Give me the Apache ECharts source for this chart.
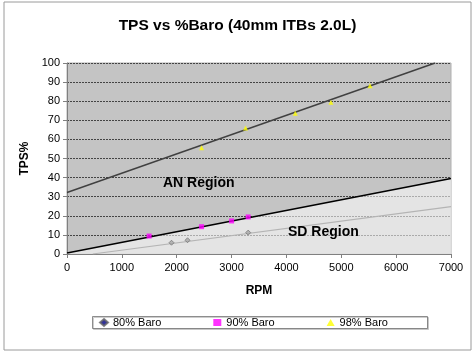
<!DOCTYPE html>
<html><head><meta charset="utf-8">
<script src="https://cdn.jsdelivr.net/npm/echarts@6/dist/echarts.min.js"></script>
<style>html,body{margin:0;padding:0;background:#fff}#c{width:475px;height:354px}</style>
</head><body><div id="c"></div>
<script>
const xTicks = [0,1000,2000,3000,4000,5000,6000,7000];
const yTicks = [0,10,20,30,40,50,60,70,80,90,100];
const baro80 = [[1905,5.9],[2197,7.2],[3303,11.2]];
const baro90 = [[1497,9.4],[2453,14.3],[3000,17.3],[3303,19.4]];
const baro98 = [[2453,55.6],[3255,66],[4161,73.7],[4812,79.4],[5524,88.1]];
const trend80 = [[470,0],[7000,24.8]];
const trend90 = [[0,0.5],[7000,39.5]];
const trend98 = [[0,32.2],[6710,100]];
const seriesNames = ['80% Baro','90% Baro','98% Baro'];
const FONT = 'Liberation Sans, Arial, sans-serif';

const chart = echarts.init(document.getElementById('c'));
chart.setOption({
  animation:false,
  backgroundColor:'#fff',
  textStyle:{fontFamily:FONT},
  title:{text:'TPS vs %Baro (40mm ITBs 2.0L)',left:'center',top:13,
    textStyle:{fontSize:15.5,fontWeight:'bold',color:'#000',fontFamily:FONT}},
  grid:{left:67,right:24,top:63,bottom:100,show:true,backgroundColor:'#c4c4c4',borderColor:'#b0b0b0',borderWidth:1},
  legend:{left:99,top:317,padding:0,itemGap:52,itemWidth:8,itemHeight:7,
    textStyle:{fontSize:11,color:'#000',fontFamily:FONT},
    data:[
      {name:seriesNames[0],icon:'diamond',itemStyle:{color:'#000080'}},
      {name:seriesNames[1],icon:'rect',itemStyle:{color:'#ff00ff'}},
      {name:seriesNames[2],icon:'triangle',itemStyle:{color:'#ffff00'}}
    ]},
  graphic:[
    {type:'rect',shape:{x:4,y:2,width:467,height:348},style:{fill:'none',stroke:'#9a9a9a',lineWidth:1},z:-1},
    {type:'rect',shape:{x:92.5,y:316.5,width:335,height:12},style:{fill:'#fff',stroke:'#707070',lineWidth:0.8,shadowColor:'#c0c0c0',shadowOffsetX:1,shadowOffsetY:1,shadowBlur:0},z:0},
    {type:'text',left:163,top:176,style:{text:'AN Region',fontSize:14,fontWeight:'bold',fill:'#000',fontFamily:FONT},z:100},
    {type:'text',left:288,top:225,style:{text:'SD Region',fontSize:14,fontWeight:'bold',fill:'#000',fontFamily:FONT},z:100}
  ],
  xAxis:{type:'value',min:0,max:7000,interval:1000,
    name:'RPM',nameLocation:'middle',nameGap:31,
    nameTextStyle:{fontSize:12,fontWeight:'bold',color:'#000',fontFamily:FONT},
    axisLine:{lineStyle:{color:'#808080'}},
    axisTick:{show:true,length:4,lineStyle:{color:'#808080'}},
    axisLabel:{fontSize:11,color:'#000',margin:8,fontFamily:FONT,formatter:v=>String(v)},
    splitLine:{show:false}},
  yAxis:{type:'value',min:0,max:100,interval:10,
    name:'TPS%',nameLocation:'middle',nameGap:36,nameRotate:90,
    nameTextStyle:{fontSize:12,fontWeight:'bold',color:'#000',fontFamily:FONT},
    axisLine:{show:true,lineStyle:{color:'#808080'}},
    axisTick:{show:true,length:4,lineStyle:{color:'#808080'}},
    axisLabel:{fontSize:11,color:'#000',margin:7,fontFamily:FONT,formatter:v=>String(v)},
    splitLine:{show:true,lineStyle:{color:'#444',type:[2,1],width:1}}},
  series:[
    {name:'area90',type:'line',data:trend90,symbol:'none',silent:true,z:1,
      lineStyle:{color:'#000',width:1.5},areaStyle:{color:'#ffffff',opacity:0.55,origin:'start'}},
    {name:'t80',type:'line',data:trend80,symbol:'none',silent:true,z:2,lineStyle:{color:'#b4b4b4',width:1.2}},
    {name:'t98',type:'line',data:trend98,symbol:'none',silent:true,z:2,lineStyle:{color:'#404040',width:1.4}},
    {name:seriesNames[0],type:'scatter',data:baro80,symbol:'diamond',symbolSize:5,z:5,
      itemStyle:{color:'#a8a8a8',borderColor:'#666',borderWidth:0.8}},
    {name:seriesNames[1],type:'scatter',data:baro90,symbol:'rect',symbolSize:5,z:5,
      itemStyle:{color:'#ff00ff'}},
    {name:seriesNames[2],type:'scatter',data:baro98,symbol:'triangle',symbolSize:5,z:5,
      itemStyle:{color:'#ffff00'}}
  ]
});
</script></body></html>
